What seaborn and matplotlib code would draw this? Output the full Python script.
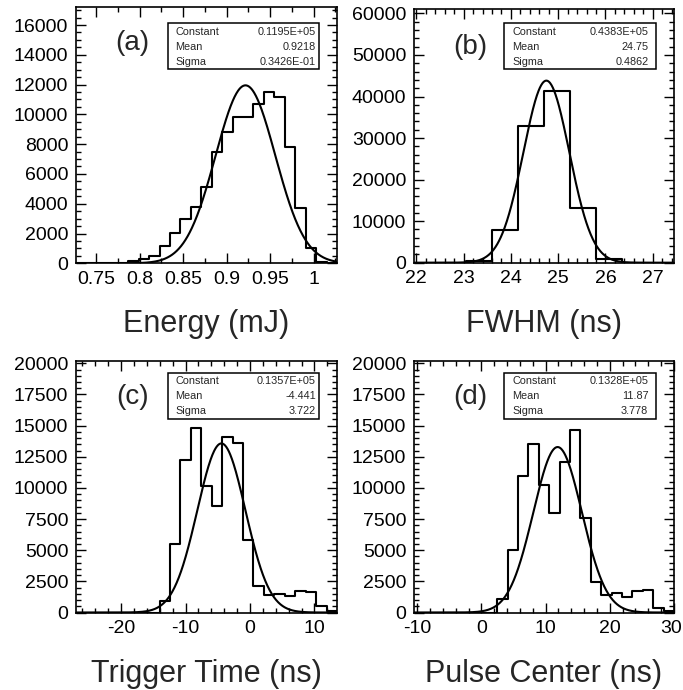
import numpy as np
import pandas as pd
import matplotlib
matplotlib.use("Agg")
import matplotlib.pyplot as plt
import matplotlib.transforms as mtransforms
import seaborn as sns
from matplotlib.patches import Rectangle
from matplotlib.ticker import MultipleLocator, FuncFormatter

sns.set_style("ticks")
plt.rcParams["font.family"] = ["Liberation Sans", "DejaVu Sans"]

# ---------------- data ----------------
panel_tags = ["(a)", "(b)", "(c)", "(d)"]
x_titles = ["Energy (mJ)", "FWHM (ns)", "Trigger Time (ns)", "Pulse Center (ns)"]

# histogram ranges (low, high) and bin contents
energy_range = (0.727, 1.027)
energy_counts = [0, 0, 0, 0, 0, 157, 268, 492, 1163, 2013, 2953, 3758, 5145,
                 7472, 8837, 9799, 9843, 10671, 11521, 11185, 7830, 3691, 1007, 112, 0]

fwhm_range = (21.95, 27.45)
fwhm_counts = [0, 0, 400, 7840, 32800, 41440, 13200, 1000, 0, 0]

trigger_range = (-27.0, 13.5)
trigger_counts = [0, 0, 0, 0, 0, 0, 0, 0, 900, 5532, 12245, 14769, 10150, 8566,
                  14124, 13641, 5800, 2094, 1370, 1450, 1316, 1718, 1638, 510, 160]

center_range = (-10.5, 30.0)
center_counts = [0, 0, 0, 0, 0, 0, 0, 0, 1100, 4995, 10956, 13534, 10231, 7948,
                 12057, 14608, 7545, 2444, 1370, 1557, 1235, 1692, 1772, 376, 160]

# Gaussian fit parameters (Constant, Mean, Sigma) and their printed strings
fit_constant = [0.1195e5, 0.4383e5, 0.1357e5, 0.1328e5]
fit_mean = [0.9218, 24.75, -4.441, 11.87]
fit_sigma = [0.3426e-1, 0.4862, 3.722, 3.778]
fit_constant_txt = ["0.1195E+05", "0.4383E+05", "0.1357E+05", "0.1328E+05"]
fit_mean_txt = ["0.9218", "24.75", "-4.441", "11.87"]
fit_sigma_txt = ["0.3426E-01", "0.4862", "3.722", "3.778"]

y_max = [17190, 61000, 20210, 20210]

x_major = [0.05, 1, 10, 10]
x_minor = [0.025, 0.2, 2, 2]
y_major = [2000, 10000, 2500, 2500]
y_minor = [500, 2000, 500, 500]

ranges = [energy_range, fwhm_range, trigger_range, center_range]
counts = [energy_counts, fwhm_counts, trigger_counts, center_counts]

# ---------------- layout (pixels) ----------------
W, H, DPI = 683, 690, 100
axes_px = [(76, 7.3, 337, 263.3), (414, 9.3, 674, 262.7),
           (76, 360.7, 337, 612.5), (414, 360.7, 674, 612.5)]
title_px = [(206.5, 324), (544, 324), (206.5, 674), (544, 674)]
tag_px = [(132.7, 43.3), (470, 46.7), (132.7, 396.7), (470, 396.7)]
box_px = [(168.3, 23.3, 319.3, 69.3), (504.3, 23.3, 656, 69.3),
          (167.7, 372.7, 319.3, 419.3), (504.3, 372.7, 656, 419.3)]
box_text_x = [(175, 316), (512.3, 648.3), (175, 316), (512.3, 648.3)]
box_row_dy = [8.4, 23.4, 38.4]


def fx(x):
    return x / W


def fy(y):
    return 1 - y / H


fig = plt.figure(figsize=(W / DPI, H / DPI), dpi=DPI)
axes = []

for i in range(4):
    l, t, r, b = axes_px[i]
    ax = fig.add_axes([fx(l), fy(b), (r - l) / W, (b - t) / H])
    axes.append(ax)
    lo, hi = ranges[i]
    cnt = np.asarray(counts[i], dtype=float)
    nb = len(cnt)
    edges = np.linspace(lo, hi, nb + 1)
    centers = 0.5 * (edges[:-1] + edges[1:])
    df = pd.DataFrame({"x": centers, "w": cnt})
    sns.histplot(data=df, x="x", weights="w", bins=edges.tolist(), element="step",
                 fill=False, color="black", linewidth=1.5, ax=ax)

    xs = np.linspace(lo, hi, 600)
    ys = fit_constant[i] * np.exp(-0.5 * ((xs - fit_mean[i]) / fit_sigma[i]) ** 2)
    sns.lineplot(x=xs, y=ys, color="black", linewidth=1.5, ax=ax)

    ax.set_xlim(lo, hi)
    ax.set_ylim(0, y_max[i])
    ax.xaxis.set_major_locator(MultipleLocator(x_major[i]))
    ax.xaxis.set_minor_locator(MultipleLocator(x_minor[i]))
    ax.yaxis.set_major_locator(MultipleLocator(y_major[i]))
    ax.yaxis.set_minor_locator(MultipleLocator(y_minor[i]))
    ax.xaxis.set_major_formatter(FuncFormatter(lambda v, p: "%g" % round(v, 4)))
    ax.yaxis.set_major_formatter(FuncFormatter(lambda v, p: "%d" % round(v)))
    ax.tick_params(which="both", direction="in", top=True, right=True,
                   width=1.0, colors="black", labelsize=14)
    ax.tick_params(which="major", length=7, pad=5.5)
    ax.tick_params(which="minor", length=3.6)
    for s in ax.spines.values():
        s.set_linewidth(1.2)
        s.set_color("black")
    ax.set_ylabel("")
    ax.set_xlabel(x_titles[i], fontsize=22, va="center")
    tx, ty = title_px[i]
    ax.xaxis.set_label_coords((tx - l) / (r - l), (b - ty) / (b - t))

    # panel tag
    px_, py_ = tag_px[i]
    fig.text(fx(px_), fy(py_), panel_tags[i], fontsize=20, ha="center", va="center")

    # statistics box
    bl, bt, br, bb = box_px[i]
    fig.patches.append(Rectangle((fx(bl), fy(bb)), (br - bl) / W, (bb - bt) / H,
                                 transform=fig.transFigure, fill=True,
                                 facecolor="white", edgecolor="black", linewidth=1.1,
                                 zorder=5))
    tl, tr = box_text_x[i]
    names = ["Constant", "Mean", "Sigma"]
    vals = [fit_constant_txt[i], fit_mean_txt[i], fit_sigma_txt[i]]
    for k in range(3):
        yy = fy(bt + box_row_dy[k])
        fig.text(fx(tl), yy, names[k], fontsize=7.8, ha="left", va="center", zorder=6)
        fig.text(fx(tr), yy, vals[k], fontsize=7.8, ha="right", va="center", zorder=6)

# keep the right-most tick label of panel (d) inside the canvas
fig.canvas.draw()
shift = mtransforms.ScaledTranslation(-2.5 / DPI, 0, fig.dpi_scale_trans)
for lab in axes[3].get_xticklabels():
    if lab.get_text() == "30":
        lab.set_transform(lab.get_transform() + shift)

fig.savefig("out.png", dpi=DPI)
